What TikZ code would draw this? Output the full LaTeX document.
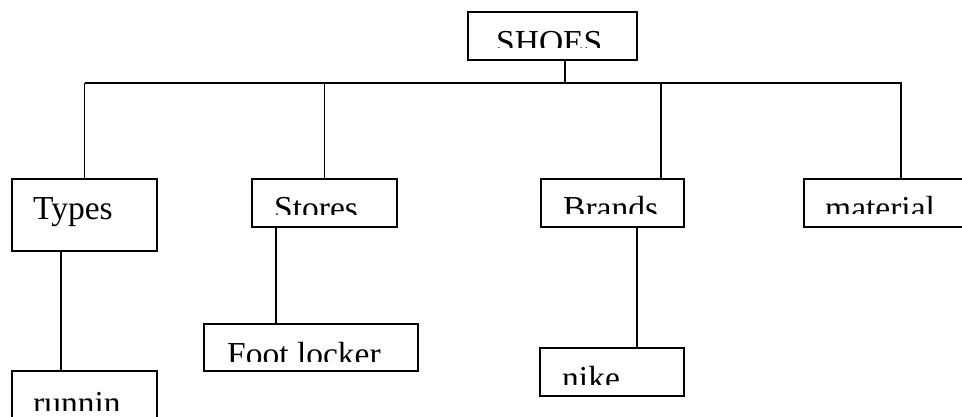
\documentclass[tikz,border=0pt]{standalone}
\usepackage{fontspec}
\setmainfont{Liberation Serif}
\begin{document}
\begin{tikzpicture}[x=1pt,y=-1pt,
  box/.style={draw=black,line width=1.8pt,rectangle,inner sep=0pt,outer sep=0pt},
  label/.style={anchor=base west,inner sep=0pt,font=\fontsize{33.5}{40}\selectfont},
  link/.style={draw=black,line width=1.8pt}]
\useasboundingbox (0,0) rectangle (962,417);
\clip (0,0) rectangle (962,417);

% boxes: centre, width, height
\node[box,minimum width=169pt,minimum height=48pt] (shoes)    at (552.5,36)  {};
\node[box,minimum width=145pt,minimum height=72pt] (types)    at (84.5,215)  {};
\node[box,minimum width=145pt,minimum height=48pt] (stores)   at (324.5,203) {};
\node[box,minimum width=143pt,minimum height=48pt] (brands)   at (612.5,203) {};
\node[box,minimum width=171pt,minimum height=48pt] (material) at (889.5,203) {};
\node[box,minimum width=214pt,minimum height=47pt] (foot)     at (311,347.5) {};
\node[box,minimum width=145pt,minimum height=59pt] (runnin)   at (84.5,400.5){};
\node[box,minimum width=144pt,minimum height=48pt] (nike)     at (612,372)   {};

% labels, cut off at the lower edge of each text area
\begin{scope}\clip (468,12) rectangle (637,48);
  \node[label] (shoes-t) at (496,54) {SHOES};\end{scope}
\node[label] (types-t) at (33,220) {Types};
\begin{scope}\clip (252,179) rectangle (397,215);
  \node[label] (stores-t) at (274,220) {Stores};\end{scope}
\begin{scope}\clip (541,179) rectangle (684,214);
  \node[label] (brands-t) at (563,220) {Brands};\end{scope}
\begin{scope}\clip (804,179) rectangle (975,214);
  \node[label] (material-t) at (825,220) {material};\end{scope}
\begin{scope}\clip (204,324) rectangle (418,361);
  \node[label] (foot-t) at (227,365) {Foot locker};\end{scope}
\begin{scope}\clip (12,371) rectangle (157,410);
  \node[label] (runnin-t) at (33,414) {runnin};\end{scope}
\begin{scope}\clip (540,348) rectangle (684,384);
  \node[label] (nike-t) at (562,389) {nike};\end{scope}

% bus below the root
\coordinate (busL) at (85,83);
\coordinate (busR) at (902,83);
\draw[link] (busL) -- (busR);
\draw[link] ([xshift=12.5pt]shoes.south) -- ([xshift=12.5pt]shoes.south |- busL);
\draw[link] (types.north)    -- (types.north |- busL);
\draw[link] (stores.north)   -- (stores.north |- busL);
\draw[link] ([xshift=48.5pt]brands.north) -- ([xshift=48.5pt]brands.north |- busL);
\draw[link] ([xshift=11.5pt]material.north) -- ([xshift=11.5pt]material.north |- busL);

% second level links
\draw[link] ([xshift=-23.5pt]types.south)  -- ([xshift=-23.5pt]types.south |- runnin.north);
\draw[link] ([xshift=-48.5pt]stores.south) -- ([xshift=-48.5pt]stores.south |- foot.north);
\draw[link] ([xshift=24.5pt]brands.south)  -- ([xshift=24.5pt]brands.south |- nike.north);
\end{tikzpicture}
\end{document}
